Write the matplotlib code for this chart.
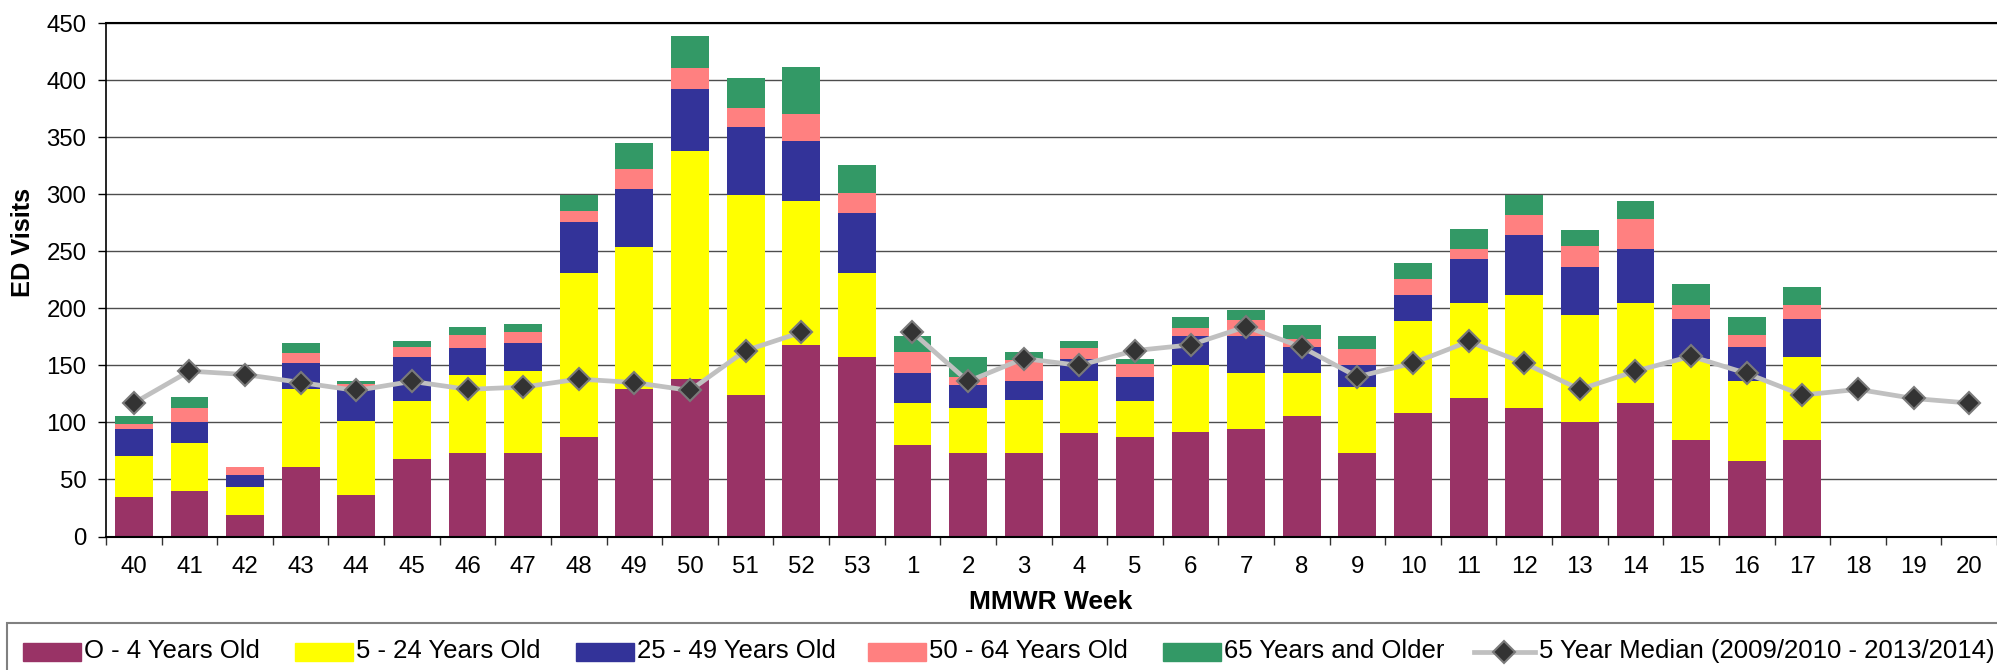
import matplotlib.pyplot as plt
import numpy as np
from matplotlib.patches import Rectangle
from matplotlib.lines import Line2D

plt.rcParams['font.family'] = ['Liberation Sans', 'DejaVu Sans']

weeks = ['40', '41', '42', '43', '44', '45', '46', '47', '48', '49', '50', '51', '52', '53',
         '1', '2', '3', '4', '5', '6', '7', '8', '9', '10', '11', '12', '13', '14', '15',
         '16', '17', '18', '19', '20']

age_0_4 = [35, 40, 19, 61, 36, 68, 73, 73, 87, 129, 138, 124, 168, 157,
           80, 73, 73, 91, 87, 92, 94, 106, 73, 108, 121, 113, 100, 117, 85,
           66, 85, 0, 0, 0]
age_5_24 = [36, 42, 24, 68, 65, 51, 69, 72, 144, 125, 200, 175, 126, 74,
            37, 40, 47, 45, 32, 58, 49, 37, 58, 81, 84, 99, 94, 88, 71,
            70, 72, 0, 0, 0]
age_25_49 = [23, 18, 11, 23, 30, 38, 23, 25, 45, 51, 54, 60, 53, 53,
             26, 20, 16, 20, 21, 26, 33, 23, 19, 23, 38, 52, 42, 47, 35,
             30, 34, 0, 0, 0]
age_50_64 = [5, 13, 7, 9, 3, 9, 12, 9, 9, 17, 19, 17, 23, 17,
             19, 7, 19, 9, 11, 7, 14, 7, 14, 14, 9, 18, 19, 26, 12,
             11, 12, 0, 0, 0]
age_65 = [7, 9, 0, 9, 2, 5, 7, 7, 14, 23, 28, 26, 42, 25,
          14, 17, 7, 6, 5, 9, 9, 12, 12, 14, 18, 17, 14, 16, 18,
          15, 16, 0, 0, 0]
median_5yr = [117, 145, 142, 135, 128, 136, 129, 131, 138, 135, 128, 163, 179, np.nan,
              179, 136, 156, 150, 163, 168, 184, 166, 140, 152, 171, 152, 129, 145, 158,
              143, 124, 129, 121, 117]

series = [age_0_4, age_5_24, age_25_49, age_50_64, age_65]
labels = ['O - 4 Years Old', '5 - 24 Years Old', '25 - 49 Years Old',
          '50 - 64 Years Old', '65 Years and Older']
colors = ['#993366', '#FFFF00', '#333399', '#FF8080', '#339966']
median_label = '5 Year Median (2009/2010 - 2013/2014)'

W, H = 1997, 670
fig = plt.figure(figsize=(W / 100, H / 100), dpi=100)
ax = fig.add_axes([106 / W, 1 - 536.5 / H, (W - 106) / W, (536.5 - 23.2) / H])

x = np.arange(len(weeks))
bottom = np.zeros(len(weeks))
for vals, c in zip(series, colors):
    ax.bar(x, vals, 0.68, bottom=bottom, color=c, zorder=2)
    bottom += np.array(vals)

ax.plot(x, median_5yr, color='#C0C0C0', lw=3.4, marker='D', ms=11,
        mfc='#333333', mec='#7a7a7a', mew=1.5, zorder=3)

ax.set_xlim(-0.5, len(weeks) - 0.5)
ax.set_ylim(0, 450)
ax.set_yticks(np.arange(0, 451, 50))
ax.yaxis.grid(True, color='#4d4d4d', lw=1.0, zorder=0)
ax.set_axisbelow(True)

ax.set_xticks(x)
ax.set_xticklabels(weeks)
ax.set_xticks(np.arange(-0.5, len(weeks), 1.0), minor=True)
ax.tick_params(axis='x', which='major', length=0, pad=14, labelsize=17.3)
ax.tick_params(axis='x', which='minor', length=6, width=1, color='#333333')
ax.tick_params(axis='y', length=6, width=1, pad=8, labelsize=17.3)

for s in ['top', 'bottom', 'left']:
    ax.spines[s].set_color('black')
    ax.spines[s].set_linewidth(1.5)
ax.spines['left'].set_linewidth(1.2)
ax.spines['right'].set_visible(False)

fig.text(23.5 / W, 1 - 242 / H, 'ED Visits', rotation=90, ha='center', va='center',
         fontsize=18.3, fontweight='bold')
fig.text(1051 / W, 1 - 602 / H, 'MMWR Week', ha='center', va='center',
         fontsize=19, fontweight='bold')

# legend box drawn by hand, like the Excel one
fig.patches.append(Rectangle((7 / W, -0.05), (W + 10) / W, 0.05 + 1 - 623 / H,
                             transform=fig.transFigure, fill=False,
                             edgecolor='#808080', lw=1.5))
patch_x = [23, 295, 576, 868, 1163]
ly = 1 - 652 / H
base = 1 - 658.3 / H
for px, c, lab in zip(patch_x, colors, labels):
    fig.patches.append(Rectangle((px / W, ly - 8.7 / H), 58 / W, 17.4 / H,
                                 transform=fig.transFigure, color=c))
    fig.text((px + 61) / W, base, lab, ha='left', va='baseline', fontsize=18.5)
fig.lines.append(Line2D([1474 / W, 1535 / W], [ly, ly], transform=fig.transFigure,
                        color='#C0C0C0', lw=3.4))
fig.lines.append(Line2D([1504 / W], [ly], transform=fig.transFigure, marker='D', ms=11,
                        mfc='#333333', mec='#7a7a7a', mew=1.5))
fig.text(1539 / W, base, median_label, ha='left', va='baseline', fontsize=18.5)

fig.savefig('out.png', dpi=100)
